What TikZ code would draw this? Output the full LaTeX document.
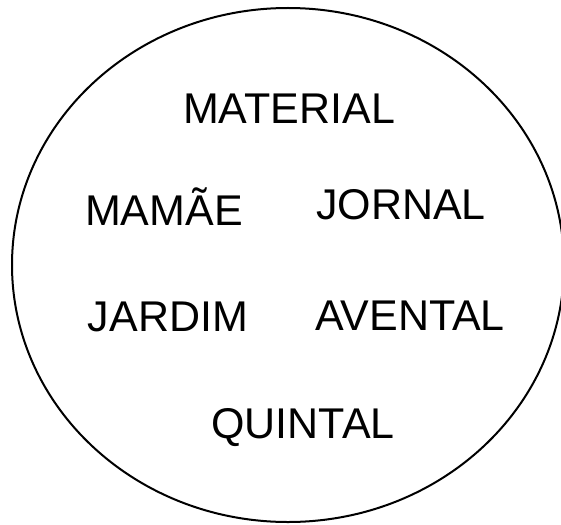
\documentclass[tikz,border=0pt]{standalone}
\usepackage{fontspec}
\setmainfont{Liberation Sans}
\usepackage{tikz}

\begin{document}
\begin{tikzpicture}[x=1pt,y=-1pt,
  every node/.style={font=\fontsize{43}{50}\selectfont,anchor=base,inner sep=0pt},
  ring/.style={draw,line width=2pt}]
  \useasboundingbox (0,0) rectangle (561,524);
  \clip (0,0) rectangle (561,524);
  \draw[ring] (288,265) ellipse [x radius=276,y radius=257];
  \node (material) at (289,123) {MATERIAL};
  \node (mamae) at (164,225) {MAMÃE};
  \node (jornal) at (401,219) {JORNAL};
  \node (jardim) at (168,331) {JARDIM};
  \node (avental) at (410,330) {AVENTAL};
  \node (quintal) at (303,438) {QUINTAL};
\end{tikzpicture}
\end{document}
